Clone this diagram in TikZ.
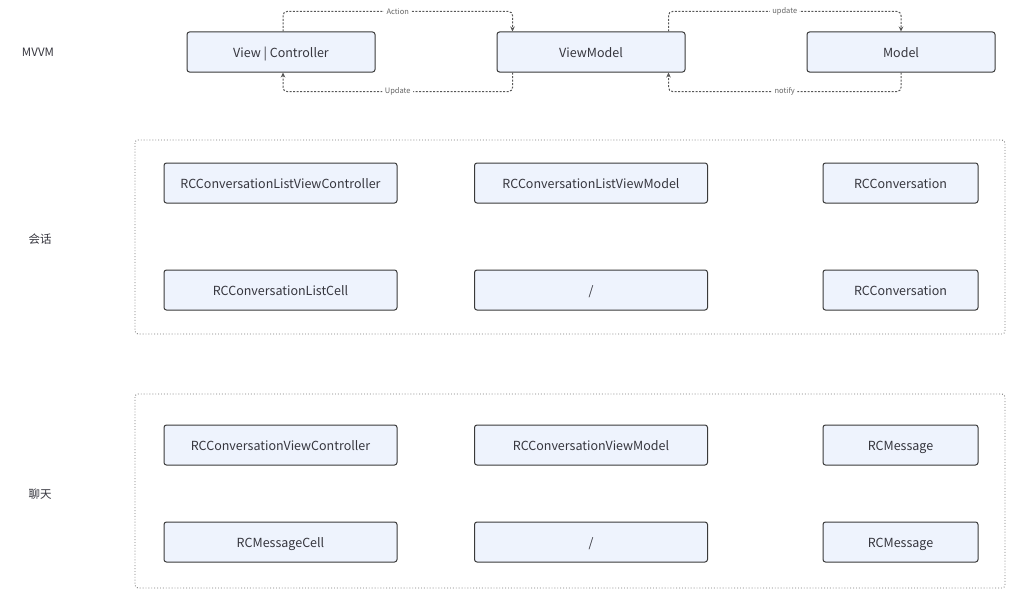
\documentclass[tikz,border=0pt]{standalone}
\usepackage{fontspec}
\setmainfont{Noto Sans CJK SC}
\usetikzlibrary{arrows.meta}

\definecolor{boxfill}{HTML}{EEF3FD}
\definecolor{boxline}{HTML}{3A3A3A}
\definecolor{txt}{HTML}{36363E}
\definecolor{frameline}{HTML}{7A7A7A}

\tikzset{
  cls/.style={draw=boxline, fill=boxfill, rounded corners=2.5, line width=1,
    minimum height=40, inner sep=0, text height=11.5, text depth=1.5, text=txt,
    font=\fontsize{12.5}{14}\selectfont},
  flow/.style={draw=boxline!85, dash pattern=on 2 off 1.5, line width=1,
    rounded corners=4, -{Stealth[length=5,width=4.5]}},
  lbl/.style={fill=white, text=black!60, font=\fontsize{7.5}{8}\selectfont, inner sep=2.5},
  group/.style={draw=frameline, dotted, rounded corners=3, line width=0.9},
  side/.style={text=txt, text height=10.5, text depth=1.5, font=\fontsize{11.5}{13}\selectfont}
}

\begin{document}
\begin{tikzpicture}[x=1pt,y=-1pt]
	\useasboundingbox[fill=white] (0,0) rectangle (1024,602);

	% MVVM
	\node[side] (mvvm) at (38,52) {MVVM};
	\node[cls, minimum width=188] (vc) at (281,52) {View | Controller};
	\node[cls, minimum width=188] (vm) at (591,52) {ViewModel};
	\node[cls, minimum width=188] (mo) at (901,52) {Model};

	% Pfeile
	\draw[flow] ([xshift=2]vc.north) -- ++(0,-20) -| node[pos=0.25,lbl] {Action} ([xshift=16]vm.north west);
	\draw[flow] ([xshift=16]vm.south west) -- ++(0,19) -| node[pos=0.25,lbl] {Update} ([xshift=2]vc.south);
	\draw[flow] ([xshift=-17]vm.north east) -- ++(0,-20) -| node[pos=0.25,lbl] {update} (mo.north);
	\draw[flow] (mo.south) -- ++(0,19) -| node[pos=0.25,lbl] {notify} ([xshift=-17]vm.south east);

	% Gruppen
	\draw[group] (135,140) rectangle (1005,334);
	\draw[group] (135,394) rectangle (1005,588);

	% 会话
	\node[side] (chat) at (40,239) {会话};
	\node[cls, minimum width=233] (clvc) at (280.5,183) {RCConversationListViewController};
	\node[cls, minimum width=233] (clvm) at (591,183) {RCConversationListViewModel};
	\node[cls, minimum width=155] (conv) at (900.5,183) {RCConversation};
	\node[cls, minimum width=233] (clc) at (280.5,290) {RCConversationListCell};
	\node[cls, minimum width=233] (clno) at (591,290) {/};
	\node[cls, minimum width=155] (convb) at (900.5,290) {RCConversation};

	% 聊天
	\node[side] (talk) at (40,494) {聊天};
	\node[cls, minimum width=233] (cvc) at (280.5,445) {RCConversationViewController};
	\node[cls, minimum width=233] (cvm) at (591,445) {RCConversationViewModel};
	\node[cls, minimum width=155] (msg) at (900.5,445) {RCMessage};
	\node[cls, minimum width=233] (mc) at (280.5,542) {RCMessageCell};
	\node[cls, minimum width=233] (cno) at (591,542) {/};
	\node[cls, minimum width=155] (msgb) at (900.5,542) {RCMessage};

\end{tikzpicture}
\end{document}
